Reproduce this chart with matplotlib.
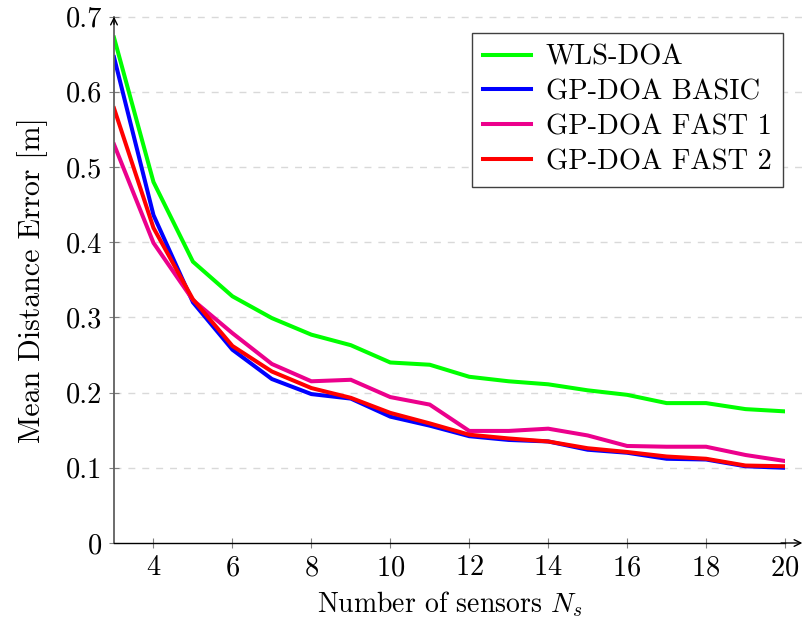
import matplotlib.pyplot as plt
import numpy as np

plt.rcParams['font.family'] = 'cmr10'
plt.rcParams['mathtext.fontset'] = 'cm'
plt.rcParams['axes.unicode_minus'] = False
plt.rcParams['axes.formatter.use_mathtext'] = True

sensors = np.arange(3, 21)

wls_doa = [0.672, 0.480, 0.374, 0.328, 0.299, 0.277, 0.263, 0.240, 0.237, 0.221,
           0.215, 0.211, 0.203, 0.197, 0.186, 0.186, 0.178, 0.175]
gp_basic = [0.646, 0.436, 0.320, 0.257, 0.218, 0.198, 0.192, 0.168, 0.156, 0.142,
            0.137, 0.135, 0.124, 0.120, 0.112, 0.111, 0.102, 0.100]
gp_fast1 = [0.530, 0.399, 0.323, 0.279, 0.238, 0.215, 0.217, 0.194, 0.184, 0.149,
            0.149, 0.152, 0.143, 0.129, 0.128, 0.128, 0.117, 0.109]
gp_fast2 = [0.578, 0.419, 0.324, 0.262, 0.228, 0.206, 0.193, 0.173, 0.159, 0.144,
            0.139, 0.135, 0.126, 0.121, 0.115, 0.112, 0.103, 0.102]

labels = ['WLS-DOA', 'GP-DOA BASIC', 'GP-DOA FAST 1', 'GP-DOA FAST 2']
colors = ['#00ff00', '#0000ff', '#ec008c', '#ff0000']

fs = 20.5

fig = plt.figure(figsize=(8.03, 6.28), dpi=100)
ax = fig.add_axes([114 / 803, 85 / 628, (785 - 114) / 803, (543 - 16.5) / 628])

for vals, lab, col in zip([wls_doa, gp_basic, gp_fast1, gp_fast2], labels, colors):
    ax.plot(sensors, vals, color=col, lw=2.9, label=lab, solid_joinstyle='miter')

ax.set_xlim(3, 20)
ax.set_ylim(0, 0.7)
ax.set_xticks(np.arange(4, 21, 2))
yt = np.round(np.arange(0, 0.71, 0.1), 1)
ax.set_yticks(yt)
ax.set_yticklabels(['0'] + [f'{v:.1f}' for v in yt[1:]])

# dashed grid
for v in yt[1:]:
    ax.axhline(v, xmin=0, xmax=1.025, color='#d9d9d9', lw=1, ls=(0, (5, 5)),
               clip_on=False, zorder=0)

for s in ['top', 'right']:
    ax.spines[s].set_visible(False)
ax.spines['left'].set_color('#606060')
ax.spines['left'].set_linewidth(1.3)
ax.spines['bottom'].set_color('black')
ax.spines['bottom'].set_linewidth(1.0)

ax.tick_params(axis='both', direction='inout', length=7, width=0.8,
               color='#808080', labelsize=fs)
ax.tick_params(axis='x', pad=5)
ax.tick_params(axis='y', pad=5)

# axis arrows
ax.annotate('', xy=(1.03, 0), xytext=(0.99, 0), xycoords='axes fraction',
            arrowprops=dict(arrowstyle='->', color='black', lw=1.0, mutation_scale=12))
ax.annotate('', xy=(0, 1.005), xytext=(0, 0.98), xycoords='axes fraction',
            arrowprops=dict(arrowstyle='->', color='black', lw=1.0, mutation_scale=12))

ax.set_xlabel('Number of sensors $N_s$', fontsize=20, labelpad=6)
ax.set_ylabel('Mean Distance Error [m]', fontsize=21.5, labelpad=13)

leg = ax.legend(loc='upper right', bbox_to_anchor=(0.997, 0.969), fontsize=fs,
                fancybox=False, framealpha=1, edgecolor='#404040',
                handlelength=1.7, handletextpad=0.5, labelspacing=0.3,
                borderpad=0.4, borderaxespad=0)
leg.get_frame().set_linewidth(1.0)

fig.savefig('out.png', dpi=100)
